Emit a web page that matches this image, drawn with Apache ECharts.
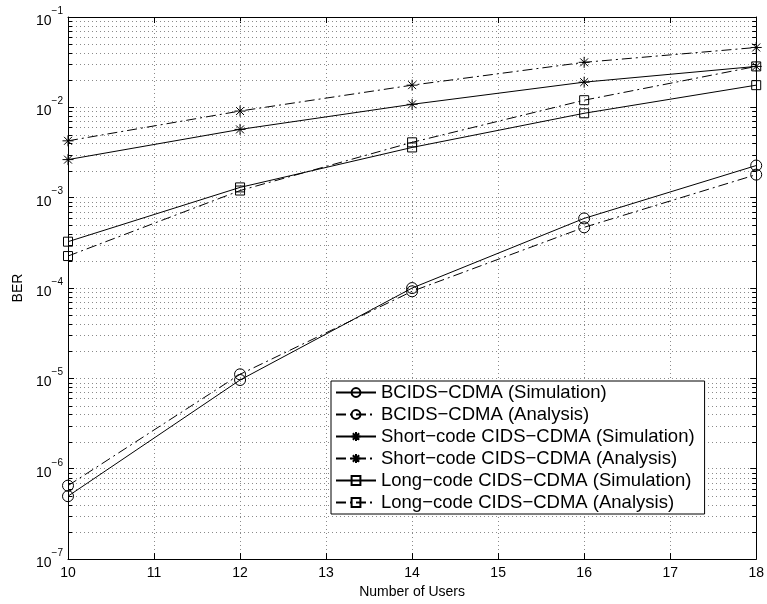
<!DOCTYPE html>
<html>
<head>
<meta charset="utf-8">
<script src="https://cdn.jsdelivr.net/npm/echarts@6/dist/echarts.min.js"></script>
<style>html,body{margin:0;padding:0;background:#fff;}#c{width:767px;height:604px;}</style>
</head>
<body>
<div id="c"></div>
<script>
const users = [10, 12, 14, 16, 18];
const bcidsSim = [4.97e-7, 9.6e-6, 1.0e-4, 5.9e-4, 2.27e-3];
const bcidsAna = [6.5e-7, 1.11e-5, 9.2e-5, 4.7e-4, 1.8e-3];
const shortSim = [2.64e-3, 5.7e-3, 1.08e-2, 1.9e-2, 2.84e-2];
const shortAna = [4.26e-3, 9.1e-3, 1.76e-2, 3.15e-2, 4.6e-2];
const longSim = [3.26e-4, 1.3e-3, 3.6e-3, 8.6e-3, 1.76e-2];
const longAna = [2.26e-4, 1.2e-3, 4.1e-3, 1.2e-2, 2.84e-2];
const seriesNames = [
  'BCIDS\u2212CDMA (Simulation)',
  'BCIDS\u2212CDMA (Analysis)',
  'Short\u2212code CIDS\u2212CDMA (Simulation)',
  'Short\u2212code CIDS\u2212CDMA (Analysis)',
  'Long\u2212code CIDS\u2212CDMA (Simulation)',
  'Long\u2212code CIDS\u2212CDMA (Analysis)'
];
const xLabel = 'Number of Users';
const yLabel = 'BER';
const decadeExps = [-7, -6, -5, -4, -3, -2];
const minorMult = [2, 3, 4, 5, 6, 7, 8, 9];

const minorVals = [];
decadeExps.forEach(e => minorMult.forEach(m => minorVals.push(Number((m * Math.pow(10, e)).toPrecision(3)))));

const FONT = '"Liberation Sans", Arial, Helvetica, sans-serif';
const STAR = 'path://M0,-5L0,5M-5,0L5,0M-3.6,-3.6L3.6,3.6M-3.6,3.6L3.6,-3.6';
const DASHDOT = [10, 4, 2, 4];
const GRID_COLOR = '#8a8a8a';
const GRID_DASH = [1, 3];

function pairs(ys) { return users.map((x, i) => [x, ys[i]]); }
function mk(name, ys, symbol, size, dashed) {
  return {
    name: name, type: 'line', data: pairs(ys), symbol: symbol, symbolSize: size,
    showSymbol: true, clip: false, animation: false, z: 5,
    lineStyle: { color: '#000', width: 1, type: dashed ? DASHDOT : 'solid' },
    itemStyle: { color: 'transparent', borderColor: '#000', borderWidth: 1 },
    emphasis: { disabled: true }
  };
}

const gridDot = { color: GRID_COLOR, width: 1, type: GRID_DASH };
const axisLineStyle = { show: true, lineStyle: { color: '#000', width: 1 } };
const tickMajor = { show: true, inside: true, length: 6, lineStyle: { color: '#000' } };
const logBase = { type: 'log', logBase: 10, min: 1e-7, max: 1e-1 };

// minor log grid lines + minor ticks (2..9 x decade) drawn through the y scale
const minorGridSeries = {
  type: 'custom', name: 'minor', silent: true, z: 1, animation: false,
  data: minorVals.map(v => [10, v]),
  encode: { x: 0, y: 1 },
  renderItem: function (params, api) {
    const cs = params.coordSys;
    const y = Math.round(api.coord([10, api.value(1)])[1]) + 0.5;
    const x0 = cs.x, x1 = cs.x + cs.width;
    return {
      type: 'group', children: [
        { type: 'line', shape: { x1: x0, y1: y, x2: x1, y2: y },
          style: { stroke: GRID_COLOR, lineWidth: 1, lineDash: GRID_DASH } },
        { type: 'line', shape: { x1: x0, y1: y, x2: x0 + 4, y2: y },
          style: { stroke: '#000', lineWidth: 1 } },
        { type: 'line', shape: { x1: x1 - 4, y1: y, x2: x1, y2: y },
          style: { stroke: '#000', lineWidth: 1 } }
      ]
    };
  }
};

const chart = echarts.init(document.getElementById('c'), null, { renderer: 'canvas' });
chart.setOption({
  backgroundColor: '#fff',
  animation: false,
  grid: { left: 68, right: 7, top: 17, bottom: 41, containLabel: false },
  xAxis: [{
    type: 'value', min: 10, max: 18, interval: 1, position: 'bottom',
    name: xLabel, nameLocation: 'middle', nameGap: 24,
    nameTextStyle: { fontFamily: FONT, fontSize: 14, color: '#000' },
    axisLine: axisLineStyle,
    axisTick: tickMajor,
    axisLabel: { fontFamily: FONT, fontSize: 14, color: '#000', margin: 7 },
    splitLine: { show: true, lineStyle: gridDot }
  }, {
    type: 'value', min: 10, max: 18, interval: 1, position: 'top',
    axisLine: axisLineStyle,
    axisTick: tickMajor,
    axisLabel: { show: false }, splitLine: { show: false }
  }],
  yAxis: [Object.assign({}, logBase, {
    position: 'left',
    name: yLabel, nameLocation: 'middle', nameGap: 42, nameRotate: 90,
    nameTextStyle: { fontFamily: FONT, fontSize: 14, color: '#000' },
    axisLine: axisLineStyle,
    axisTick: tickMajor,
    minorTick: { show: false },
    splitLine: { show: true, lineStyle: gridDot },
    axisLabel: {
      margin: 5,
      formatter: function (v) {
        const e = Math.round(Math.log10(v));
        return '{b|10}{s|' + (e < 0 ? '\u2212' : '') + Math.abs(e) + '}';
      },
      rich: {
        b: { fontFamily: FONT, fontSize: 14, color: '#000', lineHeight: 22, verticalAlign: 'bottom' },
        s: { fontFamily: FONT, fontSize: 10, color: '#000', lineHeight: 22, verticalAlign: 'top' }
      }
    }
  }), Object.assign({}, logBase, {
    position: 'right',
    axisLine: axisLineStyle,
    axisTick: tickMajor,
    axisLabel: { show: false }, splitLine: { show: false }
  })],
  legend: {
    orient: 'vertical', left: 331, top: 381,
    data: seriesNames,
    backgroundColor: '#fff', borderColor: '#000', borderWidth: 1, borderRadius: 0,
    padding: [2, 10, 2, 4], itemGap: 3, itemWidth: 40, itemHeight: 11,
    textStyle: { fontFamily: FONT, fontSize: 18.5, color: '#000', lineHeight: 18 },
    selectedMode: false
  },
  series: [
    minorGridSeries,
    mk(seriesNames[0], bcidsSim, 'circle', 11, false),
    mk(seriesNames[1], bcidsAna, 'circle', 11, true),
    mk(seriesNames[2], shortSim, STAR, 11, false),
    mk(seriesNames[3], shortAna, STAR, 11, true),
    mk(seriesNames[4], longSim, 'rect', 9, false),
    mk(seriesNames[5], longAna, 'rect', 9, true)
  ]
});
</script>
</body>
</html>
